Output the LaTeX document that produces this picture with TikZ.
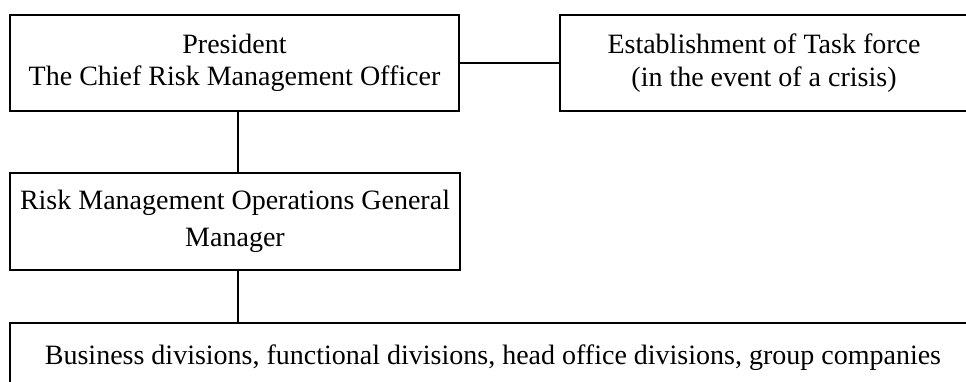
\documentclass[tikz,border=0pt]{standalone}
\usepackage{fontspec}
\setmainfont{Liberation Serif}
\begin{document}
\begin{tikzpicture}[x=1pt,y=-1pt,
  box/.style={draw, line width=2pt, inner sep=0pt, align=center},
  link/.style={draw, line width=2pt}]
\useasboundingbox (0,0) rectangle (966,382);
\clip (0,0) rectangle (966,382);
\node[box, minimum width=449pt, minimum height=96pt,
      font=\fontsize{28}{32}\selectfont] (pres) at (234.5,63)
  {President\\The Chief Risk Management Officer};
\node[box, minimum width=408pt, minimum height=96pt,
      font=\fontsize{28}{33}\selectfont] (task) at (764,63)
  {Establishment of Task force\\(in the event of a crisis)};
\node[box, minimum width=450pt, minimum height=97pt,
      font=\fontsize{28}{37}\selectfont] (rmo) at (235,221.5)
  {Risk Management Operations General\\Manager};
\node[box, minimum width=966pt, minimum height=70pt,
      font=\fontsize{28}{34}\selectfont] (div) at (493,358)
  {Business divisions, functional divisions, head office divisions, group companies};
\draw[link] (pres.east) -- (task.west);
\draw[link] ([xshift=3.5pt]pres.south) -- ([xshift=3.5pt]pres.south |- rmo.north);
\draw[link] ([xshift=3pt]rmo.south) -- ([xshift=3pt]rmo.south |- div.north);
\end{tikzpicture}
\end{document}
